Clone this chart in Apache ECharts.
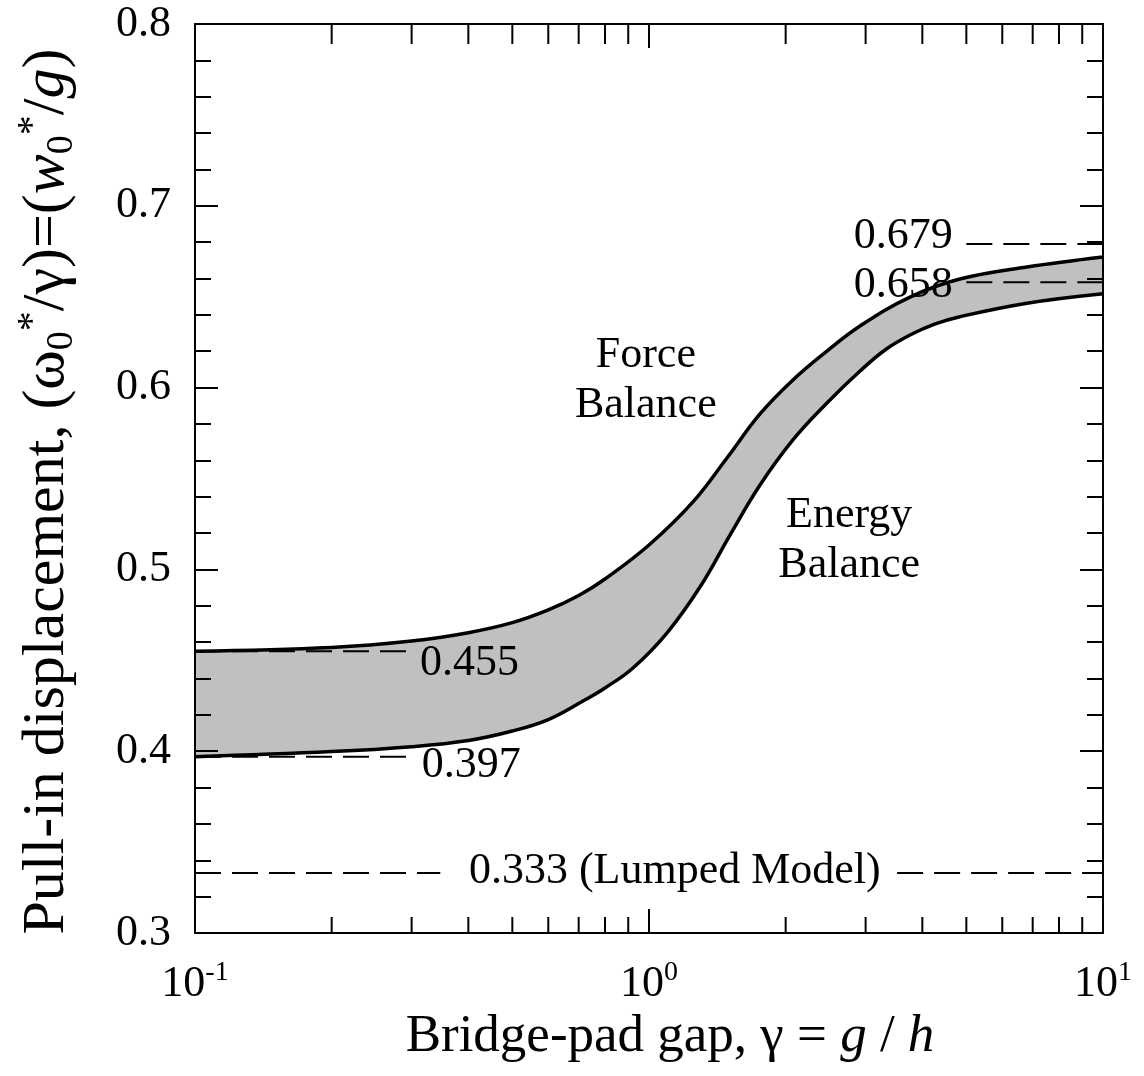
<!DOCTYPE html>
<html>
<head>
<meta charset="utf-8">
<title>Pull-in displacement</title>
<script src="https://cdn.jsdelivr.net/npm/echarts@6/dist/echarts.min.js"></script>
<style>
    html, body { margin: 0; padding: 0; background: #fff; }
    #main { width: 1144px; height: 1076px; }
</style>
</head>
<body>
<div id="main"></div>
<script type="text/javascript">
    // curves
    var forceX = [0.1, 0.2, 0.3, 0.4, 0.5, 0.6, 0.7, 0.8, 1.0, 1.25, 1.485, 1.756, 2.075, 2.466, 2.916, 3.758, 4.84, 6.8, 10];
    var forceY = [0.455, 0.4571, 0.4606, 0.4652, 0.4707, 0.4777, 0.4856, 0.4947, 0.5134, 0.5371, 0.5613, 0.5855, 0.6042, 0.6201, 0.6339, 0.6498, 0.6597, 0.6663, 0.6718];
    var energyX = [0.1, 0.2, 0.3, 0.4, 0.5, 0.6, 0.7155, 0.8, 0.922, 1.095, 1.295, 1.508, 1.756, 2.075, 2.466, 2.916, 3.31, 3.758, 4.27, 4.84, 6.8, 10];
    var energyY = [0.397, 0.3998, 0.4025, 0.4059, 0.4111, 0.4174, 0.4276, 0.4348, 0.4458, 0.465, 0.4903, 0.5189, 0.5464, 0.5712, 0.5915, 0.6091, 0.6207, 0.6289, 0.635, 0.639, 0.6464, 0.6516];

    // dashed reference levels: [value, xFrom, xTo]
    var refLines = [
        [0.455, 0.1, 0.294],
        [0.397, 0.1, 0.294],
        [0.333, 0.1, 0.347],
        [0.333, 3.52, 10],
        [0.679, 5, 10],
        [0.658, 5, 10]
    ];

    // text notes: text, x, y, side
    var noteText = ['0.455', '0.397', '0.333 (Lumped Model)', '0.679', '0.658', 'Force\nBalance', 'Energy\nBalance'];
    var noteX = [0.313, 0.316, 1.14, 4.67, 4.67, 0.984, 2.76];
    var noteY = [0.4485, 0.3924, 0.3336, 0.6834, 0.656, 0.6042, 0.516];
    var noteSide = ['right', 'right', 'inside', 'left', 'left', 'inside', 'inside'];

    var xMinorTicks = [0.2, 0.3, 0.4, 0.5, 0.6, 0.7, 0.8, 0.9, 2, 3, 4, 5, 6, 7, 8, 9];

    var serif = 'Liberation Serif, Times New Roman, serif';
    var myChart = echarts.init(document.getElementById('main'));

    function zip(xs, ys) {
        return xs.map(function (x, i) { return [x, ys[i]]; });
    }

    var frameLine = { show: true, lineStyle: { color: '#000', width: 2 } };
    var curveSmooth = 0.4;

    var series = [];

    // grey band: upper curve filled down, lower curve masks the rest in white
    series.push({
        type: 'line',
        silent: true,
        showSymbol: false,
        smooth: curveSmooth,
        z: 1,
        data: zip(forceX, forceY),
        lineStyle: { width: 0 },
        areaStyle: { color: '#c0c0c0', opacity: 1, origin: 'start' }
    });
    series.push({
        type: 'line',
        silent: true,
        showSymbol: false,
        smooth: curveSmooth,
        z: 1.5,
        data: zip(energyX, energyY),
        lineStyle: { width: 0 },
        areaStyle: { color: '#fff', opacity: 1, origin: 'start' }
    });

    refLines.forEach(function (r) {
        series.push({
            type: 'line',
            silent: true,
            showSymbol: false,
            z: 2,
            data: [[r[1], r[0]], [r[2], r[0]]],
            lineStyle: { color: '#000', width: 2, type: [26, 11] }
        });
    });

    [zip(forceX, forceY), zip(energyX, energyY)].forEach(function (d) {
        series.push({
            type: 'line',
            silent: true,
            showSymbol: false,
            smooth: curveSmooth,
            z: 3,
            data: d,
            lineStyle: { color: '#000', width: 3.5 }
        });
    });

    // log minor ticks, bottom and top
    series.push({
        type: 'custom',
        silent: true,
        z: 10,
        data: xMinorTicks.map(function (v) { return [v, 0.5]; }),
        renderItem: function (params, api) {
            var cs = params.coordSys;
            var x = api.coord([api.value(0), 0.5])[0];
            var st = { stroke: '#000', lineWidth: 2 };
            return {
                type: 'group',
                children: [
                    { type: 'line', shape: { x1: x, y1: cs.y + cs.height, x2: x, y2: cs.y + cs.height - 16 }, style: st },
                    { type: 'line', shape: { x1: x, y1: cs.y, x2: x, y2: cs.y + 20 }, style: st }
                ]
            };
        }
    });

    series.push({
        type: 'scatter',
        silent: true,
        symbolSize: 0,
        z: 5,
        itemStyle: { opacity: 1 },
        data: noteText.map(function (t, i) {
            return {
                value: [noteX[i], noteY[i]],
                name: t,
                label: { position: noteSide[i] }
            };
        }),
        label: {
            show: true,
            distance: 0,
            formatter: '{b}',
            color: '#000',
            opacity: 1,
            fontFamily: serif,
            fontSize: 44,
            lineHeight: 50
        }
    });

    var option = {
        animation: false,
        backgroundColor: '#fff',
        grid: { left: 195, right: 41, top: 24, bottom: 143 },
        xAxis: [{
            type: 'log',
            logBase: 10,
            min: 0.1,
            max: 10,
            position: 'bottom',
            z: 10,
            axisLine: frameLine,
            axisTick: { show: true, inside: true, length: 24, lineStyle: { color: '#000', width: 2 } },
            splitLine: { show: false },
            axisLabel: {
                margin: 26,
                formatter: function (v) {
                    return '{b|10}{s|' + Math.round(Math.log10(v)) + '}';
                },
                rich: {
                    b: { fontFamily: serif, fontSize: 44, color: '#000', lineHeight: 50 },
                    s: { fontFamily: serif, fontSize: 28, color: '#000', verticalAlign: 'top', lineHeight: 30 }
                }
            },
            name: 'Bridge-pad gap, γ = {i|g} / {i|h}',
            nameLocation: 'middle',
            nameGap: 47,
            nameTextStyle: {
                fontFamily: serif,
                fontSize: 53,
                color: '#000',
                padding: [0, 0, 0, 42],
                rich: {
                    i: { fontFamily: serif, fontSize: 53, fontStyle: 'italic', color: '#000' }
                }
            }
        }, {
            type: 'log',
            logBase: 10,
            min: 0.1,
            max: 10,
            position: 'top',
            z: 10,
            axisLine: frameLine,
            axisTick: { show: true, inside: true, length: 24, lineStyle: { color: '#000', width: 2 } },
            axisLabel: { show: false },
            splitLine: { show: false }
        }],
        yAxis: [{
            type: 'value',
            min: 0.3,
            max: 0.8,
            interval: 0.1,
            position: 'left',
            z: 10,
            axisLine: frameLine,
            axisTick: { show: true, inside: true, length: 23, lineStyle: { color: '#000', width: 2 } },
            minorTick: { show: true, splitNumber: 5, length: 16, lineStyle: { color: '#000', width: 2 } },
            splitLine: { show: false },
            axisLabel: {
                margin: 24,
                color: '#000',
                fontFamily: serif,
                fontSize: 44,
                formatter: function (v) { return v.toFixed(1); }
            },
            name: 'Pull-in displacement, (ω{sb|0}{sp|*}/γ)=({i|w}{sb|0}{sp|*}/{i|g})',
            nameLocation: 'middle',
            nameRotate: 90,
            nameGap: 114,
            nameTextStyle: {
                fontFamily: serif,
                fontSize: 60,
                color: '#000',
                lineHeight: 68,
                padding: [0, 26, 0, 0],
                rich: {
                    i: { fontFamily: serif, fontSize: 60, fontStyle: 'italic', color: '#000', lineHeight: 68 },
                    sb: { fontFamily: serif, fontSize: 38, color: '#000', verticalAlign: 'bottom', lineHeight: 68 },
                    sp: { fontFamily: serif, fontSize: 40, color: '#000', verticalAlign: 'top', lineHeight: 68 }
                }
            }
        }, {
            type: 'value',
            min: 0.3,
            max: 0.8,
            interval: 0.1,
            position: 'right',
            z: 10,
            axisLine: frameLine,
            axisTick: { show: true, inside: true, length: 23, lineStyle: { color: '#000', width: 2 } },
            minorTick: { show: true, splitNumber: 5, length: 16, lineStyle: { color: '#000', width: 2 } },
            splitLine: { show: false },
            axisLabel: { show: false }
        }],
        series: series
    };

    myChart.setOption(option);
</script>
</body>
</html>
